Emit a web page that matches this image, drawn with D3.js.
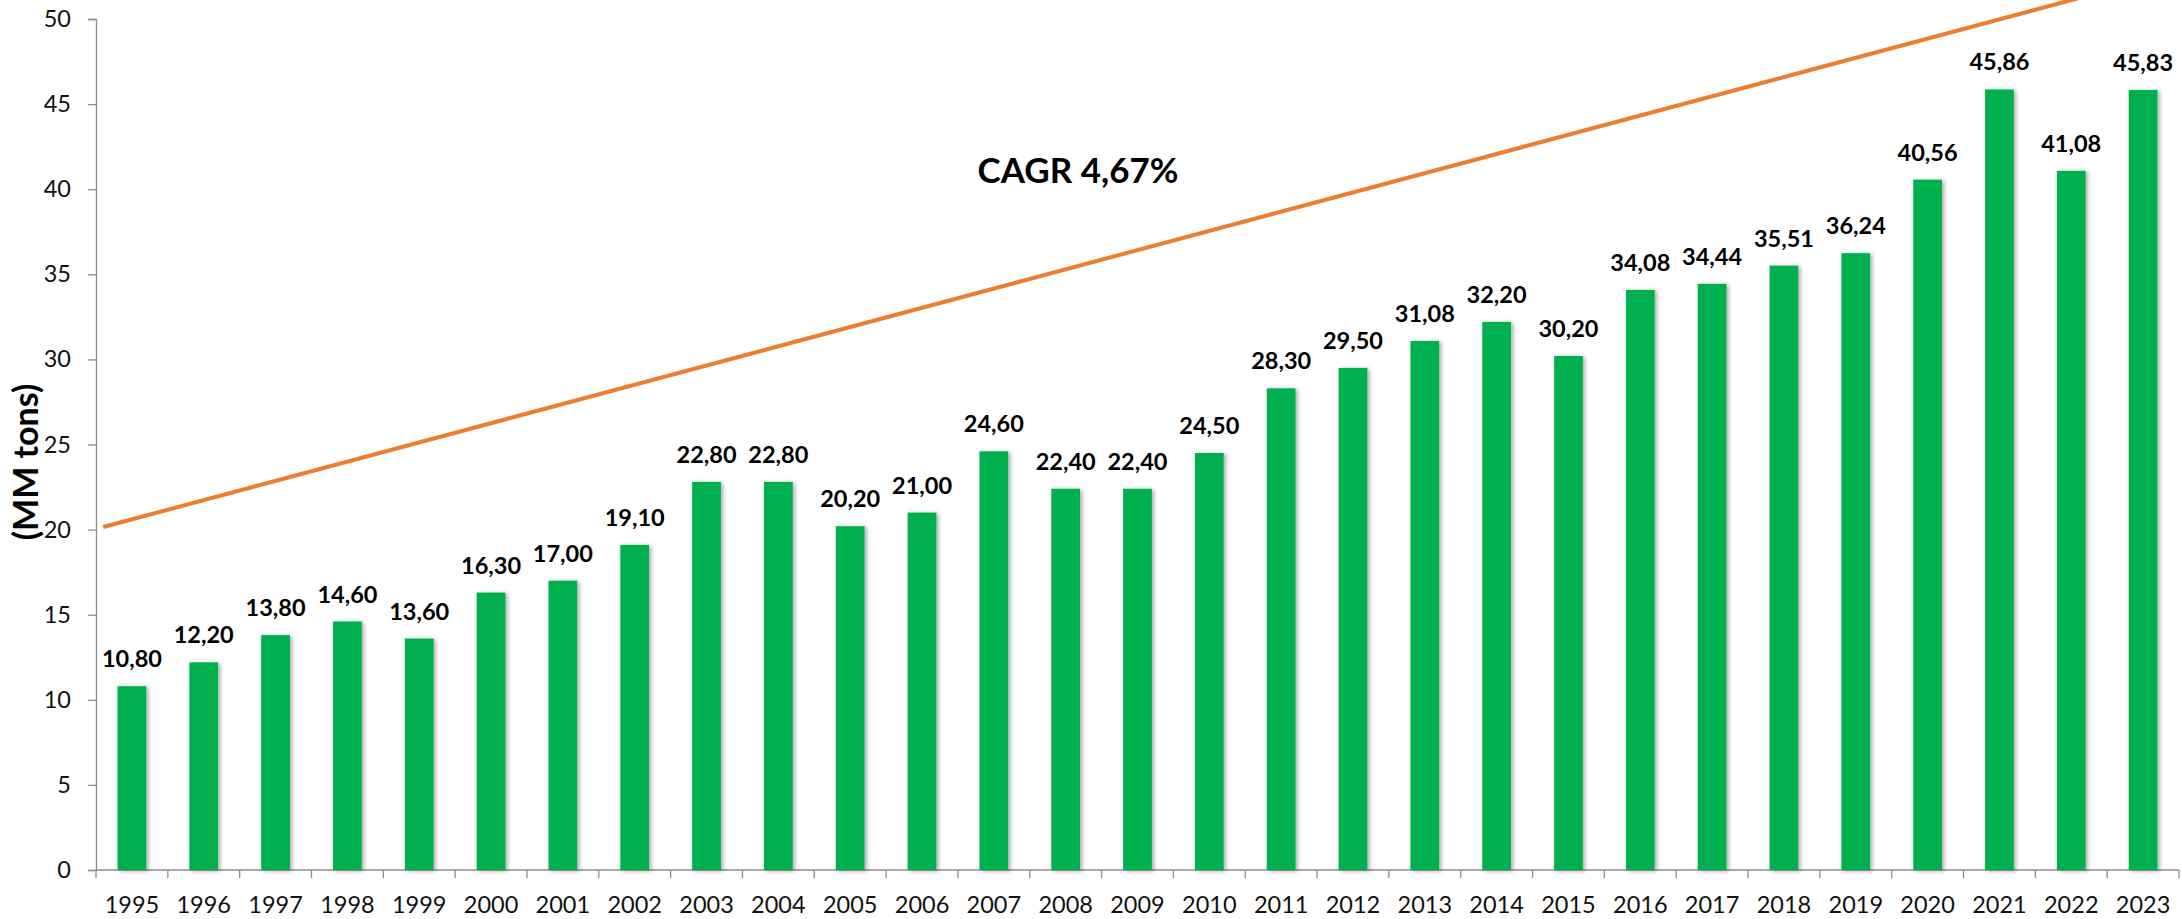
<!DOCTYPE html>
<html>
<head>
<meta charset="utf-8">
<script src="https://cdn.jsdelivr.net/npm/d3@7"></script>
<style>
  html, body { margin: 0; padding: 0; background: #fff; }
  svg { display: block; }
  text { font-family: Lato, "Open Sans", sans-serif; }
</style>
</head>
<body>
<svg id="chart" width="2182" height="919"></svg>
<script>
// ---- data ----
const years = [1995,1996,1997,1998,1999,2000,2001,2002,2003,2004,2005,2006,2007,2008,2009,2010,2011,2012,2013,2014,2015,2016,2017,2018,2019,2020,2021,2022,2023];
const values = [10.80,12.20,13.80,14.60,13.60,16.30,17.00,19.10,22.80,22.80,20.20,21.00,24.60,22.40,22.40,24.50,28.30,29.50,31.08,32.20,30.20,34.08,34.44,35.51,36.24,40.56,45.86,41.08,45.83];
const yTicks = [0,5,10,15,20,25,30,35,40,45,50];
const trendYears = [1994.6, 2023];
const trendValues = [20.15, 52.24];
const cagrLabel = "CAGR 4,67%";
const yTitle = "(MM tons)";

// ---- layout ----
const svg = d3.select("#chart");
const mLeft = 96, mRight = 2179, mTop = 19, mBottom = 870;

const x = d3.scaleBand().domain(years).range([mLeft, mRight]).paddingInner(0.6).paddingOuter(0.3);
const y = d3.scaleLinear().domain([0, 50]).range([mBottom, mTop]);
const step = x.step(), bw = x.bandwidth();
const xLin = d3.scaleLinear().domain([years[0], years[years.length-1]])
  .range([x(years[0]) + bw/2, x(years[years.length-1]) + bw/2]);

const fmt = v => v.toFixed(2).replace(".", ",");

// shadow filter
const defs = svg.append("defs");
const f = defs.append("filter").attr("id", "shadow").attr("x", "-30%").attr("y", "-10%").attr("width", "160%").attr("height", "120%");
f.append("feDropShadow").attr("dx", 2).attr("dy", 1).attr("stdDeviation", 2)
  .attr("flood-color", "#000").attr("flood-opacity", 0.35);

// y axis
const yAxis = svg.append("g").attr("transform", `translate(${mLeft},0)`)
  .call(d3.axisLeft(y).tickValues(yTicks).tickSize(8).tickPadding(17).tickFormat(d => d));
yAxis.select(".domain").attr("stroke", "#8c8c8c").attr("stroke-width", 1.3);
yAxis.selectAll(".tick line").attr("stroke", "#8c8c8c").attr("stroke-width", 1.3);
yAxis.selectAll(".tick text").attr("font-size", 23.5).attr("fill", "#111").attr("font-family", "Lato, sans-serif");

// x axis (labels at centers, ticks at boundaries)
const xAxis = svg.append("g").attr("transform", `translate(0,${mBottom})`)
  .call(d3.axisBottom(x).tickSize(0).tickPadding(26));
xAxis.select(".domain").remove();
xAxis.selectAll(".tick text").attr("font-size", 23.5).attr("fill", "#111").attr("font-family", "Lato, sans-serif");
svg.append("line").attr("x1", mLeft).attr("x2", mRight).attr("y1", mBottom).attr("y2", mBottom)
  .attr("stroke", "#8c8c8c").attr("stroke-width", 1.3);
const boundaries = years.map(d => x(d) - step * 0.3).concat([x(years[years.length-1]) + bw + step*0.3]);
svg.append("g").selectAll("line").data(boundaries).join("line")
  .attr("x1", d => d).attr("x2", d => d).attr("y1", mBottom).attr("y2", mBottom + 8)
  .attr("stroke", "#8c8c8c").attr("stroke-width", 1.3);

// bars
svg.append("g").selectAll("rect").data(years).join("rect")
  .attr("x", d => x(d)).attr("width", bw)
  .attr("y", (d, i) => y(values[i])).attr("height", (d, i) => y(0) - y(values[i]))
  .attr("fill", "#00B050").attr("filter", "url(#shadow)");

// value labels
svg.append("g").selectAll("text").data(years).join("text")
  .attr("x", d => x(d) + bw/2).attr("y", (d, i) => y(values[i]) - 19)
  .attr("text-anchor", "middle").attr("font-size", 23.5).attr("font-weight", "bold").attr("fill", "#000")
  .text((d, i) => fmt(values[i]));

// trend line
const line = d3.line().x(d => xLin(d[0])).y(d => y(d[1]));
svg.append("path").datum(trendYears.map((t, i) => [t, trendValues[i]]))
  .attr("d", line).attr("fill", "none").attr("stroke", "#ED7D31").attr("stroke-width", 4);

// CAGR label
svg.append("text").attr("x", 1078).attr("y", 183).attr("text-anchor", "middle")
  .attr("font-size", 35).attr("font-weight", "bold").attr("fill", "#000").text(cagrLabel);

// y title
svg.append("text").attr("transform", "translate(38,462) rotate(-90)").attr("text-anchor", "middle")
  .attr("font-size", 34).attr("font-weight", "bold").attr("fill", "#000").text(yTitle);
</script>
</body>
</html>
